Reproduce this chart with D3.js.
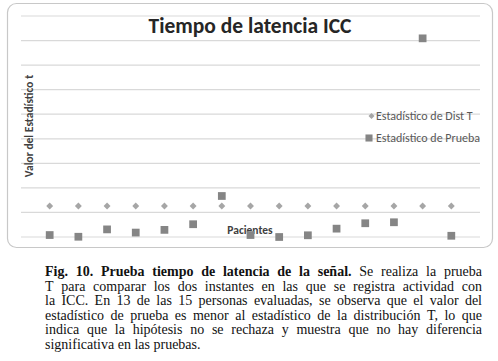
<!DOCTYPE html>
<html>
<head>
<meta charset="utf-8">
<script src="https://cdn.jsdelivr.net/npm/d3@7"></script>
<style>
  body { margin: 0; background: #fff; }
  svg { display: block; }
</style>
</head>
<body>
<svg id="chart" width="498" height="361"></svg>
<script>
// data (units = gridline steps)
const pacientes = [1, 2, 3, 4, 5, 6, 7, 8, 9, 10, 11, 12, 13, 14, 15];
const distT = [1.26, 1.26, 1.26, 1.26, 1.26, 1.26, 1.26, 1.26, 1.26, 1.26, 1.26, 1.26, 1.26, 1.26, 1.26];
const prueba = [0.08, 0.01, 0.31, 0.18, 0.29, 0.52, 1.67, 0.08, 0.0, 0.07, 0.34, 0.56, 0.60, 8.09, 0.05];
const yTicks = [0, 1, 2, 3, 4, 5, 6, 7, 8, 9];
const legendLabels = ["Estadístico de Dist T", "Estadístico de Prueba"];

const captionLines = [
    [["Fig. 10. Prueba tiempo de latencia de la señal.", true], ["Se realiza la prueba", false]],
    [["T para comparar los dos instantes en las que se registra actividad con", false]],
    [["la ICC. En 13 de las 15 personas evaluadas, se observa que el valor del", false]],
    [["estadístico de prueba es menor al estadístico de la distribución T, lo que", false]],
    [["indica que la hipótesis no se rechaza y muestra que no hay diferencia", false]],
    [["significativa en las pruebas.", false]]
];

const svg = d3.select("#chart");
const font = "Carlito, Lato, 'Open Sans', sans-serif";

// chart frame
svg.append("rect")
    .attr("x", 7.5).attr("y", 3.5)
    .attr("width", 485).attr("height", 244)
    .attr("rx", 9)
    .attr("fill", "#fff")
    .attr("stroke", "#c8c8c8")
    .attr("stroke-width", 1.2);

let x = d3.scaleLinear().domain([0, 16]).range([21, 480]);
let y = d3.scaleLinear().domain([0, 9]).range([237, 16]);

// gridlines
svg.append("g").selectAll("line").data(yTicks).join("line")
    .attr("x1", x(0)).attr("x2", x(16))
    .attr("y1", d => y(d)).attr("y2", d => y(d))
    .attr("stroke", "#d9d9d9")
    .attr("stroke-width", 1.2);

// title
svg.append("text")
    .attr("x", 250).attr("y", 33)
    .attr("text-anchor", "middle")
    .style("font-family", font)
    .style("font-weight", "bold")
    .style("font-size", "21.5px")
    .attr("fill", "#262626")
    .text("Tiempo de latencia ICC");

// axis titles
svg.append("text")
    .attr("transform", "translate(33,126) rotate(-90)")
    .attr("text-anchor", "middle")
    .style("font-family", font)
    .style("font-weight", "bold")
    .style("font-size", "11.5px")
    .attr("fill", "#404040")
    .text("Valor del Estadístico t");

svg.append("text")
    .attr("x", 250).attr("y", 234)
    .attr("text-anchor", "middle")
    .style("font-family", font)
    .style("font-weight", "bold")
    .style("font-size", "11.5px")
    .attr("fill", "#404040")
    .text("Pacientes");

// series
let diamond = d3.symbol().type(d3.symbolSquare).size(24);
let square = d3.symbol().type(d3.symbolSquare).size(60);

svg.append("g").selectAll("path").data(distT).join("path")
    .attr("d", diamond)
    .attr("transform", (d, i) => "translate(" + x(pacientes[i]) + "," + y(d) + ") rotate(45)")
    .attr("fill", "#a6a6a6");

svg.append("g").selectAll("path").data(prueba).join("path")
    .attr("d", square)
    .attr("transform", (d, i) => "translate(" + x(pacientes[i]) + "," + y(d) + ")")
    .attr("fill", "#858585");

// legend
let legend = svg.append("g").attr("class", "legend");
legend.append("path")
    .attr("d", d3.symbol().type(d3.symbolSquare).size(18))
    .attr("transform", "translate(371.5,116) rotate(45)")
    .attr("fill", "#a6a6a6");
legend.append("path")
    .attr("d", d3.symbol().type(d3.symbolSquare).size(50))
    .attr("transform", "translate(369,138)")
    .attr("fill", "#858585");
legend.selectAll("text").data(legendLabels).join("text")
    .attr("x", 376)
    .attr("y", (d, i) => 116 + 22 * i)
    .attr("dy", "0.35em")
    .style("font-family", font)
    .style("font-size", "12px")
    .attr("fill", "#595959")
    .text(d => d);

// caption, justified word by word
const capLeft = 45, capRight = 482, capTop = 276, capStep = 14.6;
const cap = svg.append("g").style("font-family", "'Liberation Serif', 'Times New Roman', serif")
    .style("font-size", "14px").attr("fill", "#111");

captionLines.forEach(function (segs, li) {
    let words = [];
    segs.forEach(function (s) {
        s[0].split(" ").forEach(w => words.push({ text: w, bold: s[1] }));
    });
    let nodes = words.map(function (w) {
        return cap.append("text")
            .attr("y", capTop + li * capStep)
            .style("font-weight", w.bold ? "bold" : "normal")
            .text(w.text);
    });
    let widths = nodes.map(n => n.node().getComputedTextLength());
    let total = d3.sum(widths);
    let last = li === captionLines.length - 1;
    let gap = last ? 3.5 : (capRight - capLeft - total) / (words.length - 1);
    let cx = capLeft;
    nodes.forEach(function (n, i) {
        n.attr("x", cx);
        cx += widths[i] + gap;
    });
});
</script>
</body>
</html>
